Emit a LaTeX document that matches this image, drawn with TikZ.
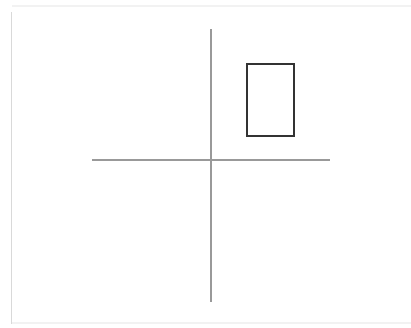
\documentclass[tikz,border=0pt]{standalone}
\begin{document}
\begin{tikzpicture}[x=1pt,y=-1pt,
  axisline/.style={draw=black!40,line width=1.2pt},
  leftedge/.style={draw=black!15,line width=1.2pt},
  faintedge/.style={draw=black!5,line width=1.5pt},
  rectbox/.style={draw=black!80,line width=1.4pt,minimum width=47pt,minimum height=72pt,inner sep=0pt}]
\useasboundingbox (0,0) rectangle (411,327);
\fill[white] (0,0) rectangle (411,327);
\draw[faintedge] (12,6) -- (411,6);
\draw[faintedge] (12,323) -- (411,323);
\draw[leftedge] (11.5,12) -- (11.5,324);
\coordinate (vt) at (211,29);
\coordinate (vb) at (211,302);
\coordinate (hl) at (92,160);
\coordinate (hr) at (330,160);
\draw[axisline] (vt) -- (vb);
\draw[axisline] (hl) -- (hr);
\node[rectbox] (r) at (270.5,100) {};
\end{tikzpicture}
\end{document}
